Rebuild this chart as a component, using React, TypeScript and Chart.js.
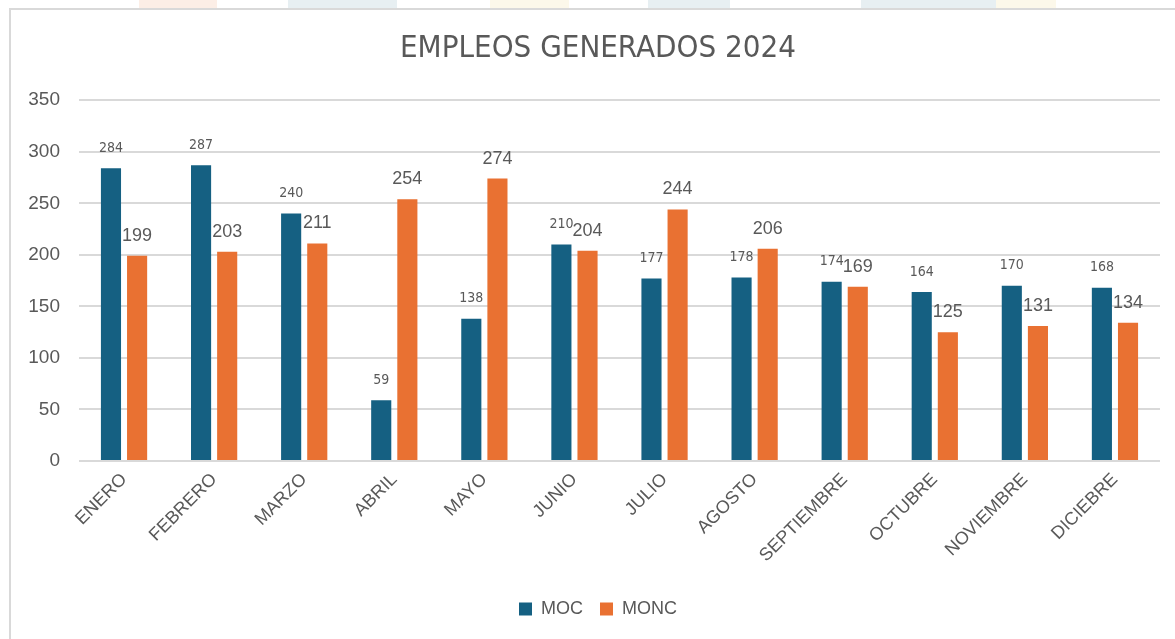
import React, { useEffect, useRef } from "react";
import { Chart, registerables } from "chart.js";

Chart.register(...registerables);

const categories = ["ENERO", "FEBRERO", "MARZO", "ABRIL", "MAYO", "JUNIO", "JULIO", "AGOSTO", "SEPTIEMBRE", "OCTUBRE", "NOVIEMBRE", "DICIEBRE"];
const mocValues = [284, 287, 240, 59, 138, 210, 177, 178, 174, 164, 170, 168];
const moncValues = [199, 203, 211, 254, 274, 204, 244, 206, 169, 125, 131, 134];
const yTicks = [0, 50, 100, 150, 200, 250, 300, 350];

const TEXT = "#595959";
const NARROW = "'Liberation Sans Narrow', 'DejaVu Sans Condensed', 'Liberation Sans', sans-serif";
const SANS = "'Liberation Sans', Arial, sans-serif";

const framePlugin = {
  id: "frame",
  beforeDraw(chart: any) {
    const ctx = chart.ctx;
    ctx.save();
    ctx.fillStyle = "#ffffff";
    ctx.fillRect(0, 0, chart.width, chart.height);
    const patches: [number, number, string][] = [
      [139, 217, "rgba(233,113,50,0.12)"],
      [288, 397, "rgba(21,96,130,0.10)"],
      [490, 569, "rgba(230,200,80,0.12)"],
      [648, 730, "rgba(21,96,130,0.10)"],
      [861, 996, "rgba(21,96,130,0.10)"],
      [996, 1056, "rgba(230,200,80,0.12)"],
    ];
    patches.forEach(([a, b, c]) => {
      ctx.fillStyle = c;
      ctx.fillRect(a, 0, b - a, 8);
    });
    ctx.strokeStyle = "#d9d9d9";
    ctx.lineWidth = 2;
    ctx.beginPath();
    ctx.moveTo(10, chart.height);
    ctx.lineTo(10, 9);
    ctx.lineTo(chart.width, 9);
    ctx.stroke();
    ctx.restore();
  },
};

const labelPlugin = {
  id: "valueLabels",
  afterDatasetsDraw(chart: any) {
    const ctx = chart.ctx;
    ctx.save();
    ctx.textAlign = "center";
    ctx.textBaseline = "middle";
    chart.data.datasets.forEach((ds: any, i: number) => {
      const meta = chart.getDatasetMeta(i);
      ctx.fillStyle = TEXT;
      ctx.font = i === 0 ? `14px ${NARROW}` : `18px ${SANS}`;
      meta.data.forEach((el: any, j: number) => {
        ctx.fillText(String(ds.data[j]), el.x, el.y - 20);
      });
    });
    ctx.restore();
  },
};

export default function App() {
  const ref = useRef<HTMLCanvasElement>(null);
  useEffect(() => {
    document.body.style.margin = "0";
    const chart = new Chart(ref.current!, {
      type: "bar",
      data: {
        labels: categories,
        datasets: [
          { label: "MOC", data: mocValues, backgroundColor: "#156082", categoryPercentage: 0.58, barPercentage: 0.77 },
          { label: "MONC", data: moncValues, backgroundColor: "#E97132", categoryPercentage: 0.58, barPercentage: 0.77 },
        ],
      },
      options: {
        responsive: false,
        animation: false,
        layout: { padding: { left: 36, right: 15, top: 0, bottom: 11 } },
        plugins: {
          title: {
            display: true,
            text: "EMPLEOS GENERADOS 2024",
            color: TEXT,
            font: { family: NARROW, size: 31, weight: "normal" },
            padding: { top: 30, bottom: 33 },
          },
          legend: {
            position: "bottom",
            labels: {
              color: TEXT,
              font: { family: SANS, size: 18 },
              boxWidth: 13,
              boxHeight: 13,
              padding: 17,
            },
          },
          tooltip: { enabled: false },
        },
        scales: {
          x: {
            grid: { display: false, drawTicks: false },
            border: { display: false },
            ticks: {
              color: TEXT,
              font: { family: SANS, size: 18 },
              minRotation: 45,
              maxRotation: 45,
              autoSkip: false,
              padding: 8,
            },
            afterFit: (s: any) => {
              s.height = 122;
            },
          },
          y: {
            min: 0,
            max: 350,
            afterBuildTicks: (s: any) => {
              s.ticks = yTicks.map((v) => ({ value: v }));
            },
            grid: { color: "#d9d9d9", lineWidth: 2, drawTicks: false },
            border: { display: false },
            ticks: {
              color: TEXT,
              font: { family: SANS, size: 19 },
              padding: 19,
            },
            afterFit: (s: any) => {
              s.width = 43;
              s._computeLabelArea = () => undefined;
            },
          },
        },
      },
      plugins: [framePlugin, labelPlugin],
    });
    return () => chart.destroy();
  }, []);
  return <canvas ref={ref} width={1175} height={639} style={{ display: "block", width: 1175, height: 639 }} />;
}
